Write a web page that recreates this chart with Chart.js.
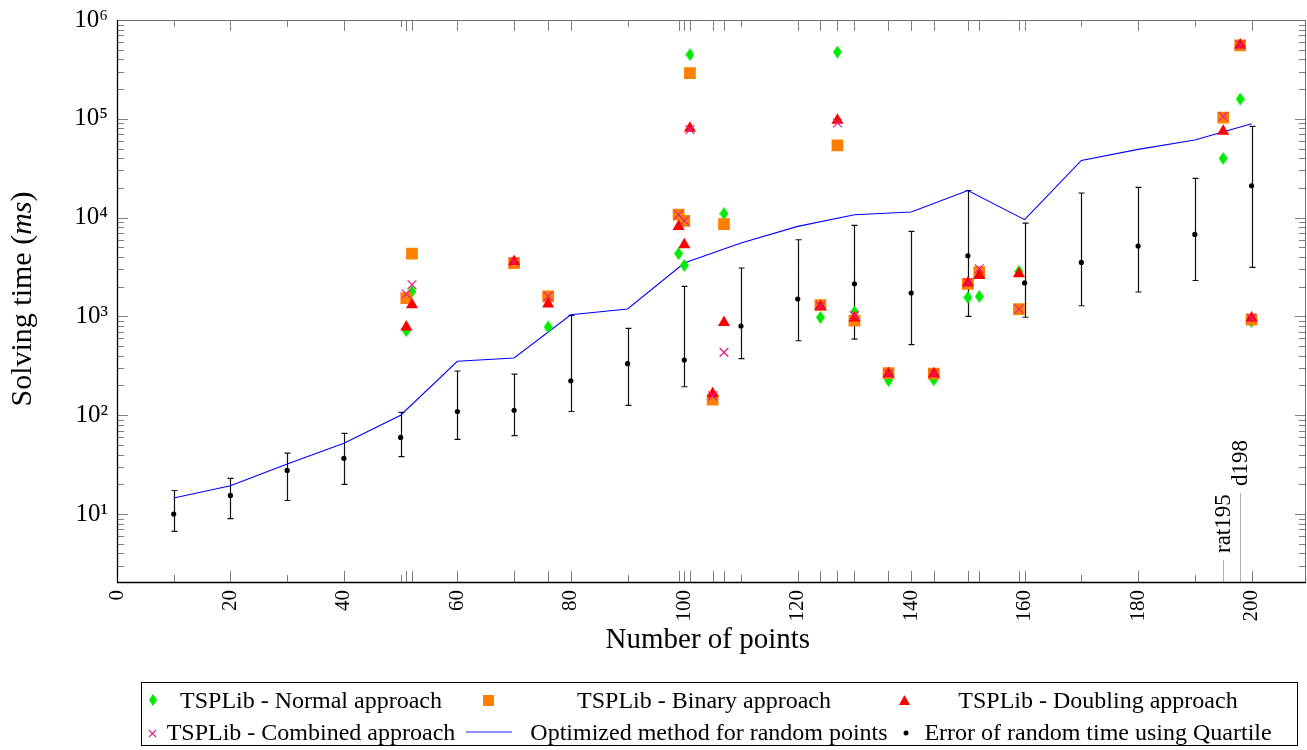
<!DOCTYPE html>
<html>
<head>
<meta charset="utf-8">
<script src="https://cdn.jsdelivr.net/npm/chart.js@4.4.0/dist/chart.umd.min.js"></script>
<style>
html,body{margin:0;padding:0;background:#fff;}
#wrap{position:relative;width:1307px;height:750px;overflow:hidden;}
#c{position:absolute;left:0;top:0;}
#legendBox{position:absolute;left:141px;top:682px;width:1157px;height:64px;border:1px solid #000;box-sizing:border-box;}
.lt{position:absolute;font-family:"Liberation Serif",serif;font-size:24px;line-height:24px;color:#000;white-space:nowrap;transform:translate(-50%,-50%);}
.lm{position:absolute;}
</style>
</head>
<body>
<div id="wrap">
<canvas id="c" width="1307" height="750"></canvas>
<div id="legendBox"></div>
<div id="legend"></div>
</div>
<script>
// ---------- DATA ----------
const randomN = [10,20,30,40,50,60,70,80,90,100,110,120,130,140,150,160,170,180,190,200];
const optimizedTime = [14.5,19.3,32,52,100,351,379,1040,1188,3470,5520,8150,10700,11380,18800,9530,37900,49000,61000,89000];
const quartileMedian = [10.0,15.4,27.6,36.6,59.6,109,112,223,332,362,800,1500,2140,1725,4110,2180,3520,5160,6760,21000];
const quartileLow = [6.67,8.96,13.7,19.9,38,56.9,62,109,126,194,373,567,590,518,1000,980,1282,1766,2310,3130];
const quartileHigh = [17.3,22.9,41.4,65.5,107,280,261,1023,757,2015,3090,5970,8340,7250,18800,8810,17740,20200,24900,83800];

const tspN =         [51,   52,   70,   76,   99,    100,  101,    105,  107,   124,  127,    130,  136, 144, 150,  152,  159,  195,    198,    200];
const normalTime =   [716,  1790, 3500, 782,  4320,  3280, 445600, 155,  10960, 977,  474000, 1108, 225, 228, 1556, 1593, 2856, 39700,  158500, 890];
const binaryTime =   [1535, 4320, 3470, 1592, 10700, 9290, 290600, 143.5,8610,  1303, 53800,  904,  267, 263, 2130, 2812, 1188, 103000, 553000, 927];
const doublingTime = [782,  1313, 3600, 1336, 8150,  5320, 80000,  165,  869,   1260, 96400,  964,  263, 263, 2180, 2600, 2704, 74700,  560000, 964];
const combinedTime = [1686, 2094, 3550, 1600, 10700, 9300, 77600,  157,  432,   1270, 90700,  1017, 263, 263, 2180, 3040, 1188, 105700, 560000, 964];

const xTickLabels = [0,20,40,60,80,100,120,140,160,180,200];
const minorXTicks = [10,30,50,90,110,170,190];
const extraTickN = [51,52,60,70,76,99,101,105,107,124,127,130,136,144,150,152,159];
const yTickValues = [10,100,1000,10000,100000,1000000];
const pinN = [195,198];
const pinLabels = ['rat195','d198'];

const seriesNames = ['TSPLib - Normal approach','TSPLib - Binary approach','TSPLib - Doubling approach',
  'TSPLib - Combined approach','Optimized method for random points','Error of random time using Quartile'];

// ---------- STYLE ----------
const GREEN = 'rgb(0,235,0)', ORANGE = 'rgb(255,128,0)', RED = 'rgb(255,0,0)', PINK = 'rgb(228,30,140)', BLUE = 'rgb(0,0,255)';
const SERIF = '"Liberation Serif", serif';
const AREA_RIGHT = 1306;     // pixel of the plot box's right edge
const X_FRAME_MAX = 209.6;   // x value at the plot box's right edge

function diamondImg(w, h, color) {
  const c = document.createElement('canvas'); c.width = w; c.height = h;
  const g = c.getContext('2d'); g.fillStyle = color; g.beginPath();
  g.moveTo(w/2, 0); g.lineTo(w, h/2); g.lineTo(w/2, h); g.lineTo(0, h/2); g.closePath(); g.fill();
  return c;
}
const pts = (xs, ys) => xs.map((x, i) => ({x, y: ys[i]}));

const sup = {1:'\u00B9',2:'\u00B2',3:'\u00B3',4:'\u2074',5:'\u2075',6:'\u2076'};

const frameRight = chart => chart.scales.x.getPixelForValue(X_FRAME_MAX);

const decorPlugin = {
  id: 'decor',
  beforeDatasetsDraw(chart) {
    const {ctx, chartArea: a, scales: {x, y}} = chart;
    const R = frameRight(chart);
    ctx.save();
    // tick marks (inward)
    ctx.strokeStyle = '#808080'; ctx.lineWidth = 1;
    ctx.beginPath();
    for (let k = 0; k <= 6; k++) for (let m = 1; m <= 9; m++) {
      const v = m * Math.pow(10, k);
      if (v < y.min || v > y.max) continue;
      const py = Math.round(y.getPixelForValue(v)) + 0.5;
      const len = m === 1 ? 11 : 7;
      ctx.moveTo(a.left, py); ctx.lineTo(a.left + len, py);
      ctx.moveTo(R, py); ctx.lineTo(R - len, py);
    }
    const addX = (v, len) => {
      const px = Math.round(x.getPixelForValue(v)) + 0.5;
      ctx.moveTo(px, a.bottom); ctx.lineTo(px, a.bottom - len);
      ctx.moveTo(px, a.top); ctx.lineTo(px, a.top + len);
    };
    xTickLabels.forEach(v => addX(v, 11));
    extraTickN.forEach(v => addX(v, 11));
    minorXTicks.forEach(v => addX(v, 7));
    ctx.stroke();
    // error bars
    ctx.strokeStyle = '#111'; ctx.lineWidth = 1.2;
    ctx.beginPath();
    randomN.forEach((n, i) => {
      const px = Math.round(x.getPixelForValue(n)) + 0.5;
      const lo = y.getPixelForValue(quartileLow[i]);
      const hi = y.getPixelForValue(quartileHigh[i]);
      ctx.moveTo(px, lo); ctx.lineTo(px, hi);
      ctx.moveTo(px - 3, lo); ctx.lineTo(px + 3, lo);
      ctx.moveTo(px - 3, hi); ctx.lineTo(px + 3, hi);
    });
    ctx.stroke();
    // pins
    const pinLen = [22, 89];
    ctx.strokeStyle = '#b0b0b0'; ctx.lineWidth = 1;
    ctx.fillStyle = '#000';
    ctx.font = '23px ' + SERIF;
    pinN.forEach((n, i) => {
      const px = Math.round(x.getPixelForValue(n)) + 0.5;
      ctx.beginPath(); ctx.moveTo(px, a.bottom); ctx.lineTo(px, a.bottom - pinLen[i]); ctx.stroke();
      ctx.save();
      ctx.translate(px, a.bottom - pinLen[i] - 7);
      ctx.rotate(-Math.PI / 2);
      ctx.textAlign = 'left'; ctx.textBaseline = 'middle';
      ctx.fillText(pinLabels[i], 0, 0);
      ctx.restore();
    });
    ctx.restore();
  },
  afterDraw(chart) {
    const {ctx, chartArea: a} = chart;
    const R = frameRight(chart);
    ctx.save();
    // frame
    ctx.lineWidth = 1;
    ctx.strokeStyle = '#6e6e6e';
    ctx.beginPath();
    ctx.moveTo(a.left, a.top + 0.5); ctx.lineTo(R, a.top + 0.5);
    ctx.moveTo(R - 0.5, a.top); ctx.lineTo(R - 0.5, a.bottom);
    ctx.stroke();
    ctx.strokeStyle = '#000'; ctx.lineWidth = 1.3;
    ctx.beginPath();
    ctx.moveTo(a.left + 0.5, a.top); ctx.lineTo(a.left + 0.5, a.bottom + 0.5);
    ctx.lineTo(R, a.bottom + 0.5);
    ctx.stroke();
    // y axis title with italic unit
    const parts = [['Solving time (', 'normal'], ['ms', 'italic'], [')', 'normal']];
    ctx.fillStyle = '#000'; ctx.textBaseline = 'middle'; ctx.textAlign = 'left';
    let total = 0;
    parts.forEach(p => { ctx.font = p[1] + ' 30px ' + SERIF; total += ctx.measureText(p[0]).width; });
    ctx.translate(23, 299); ctx.rotate(-Math.PI / 2);
    let cx = -total / 2;
    parts.forEach(p => { ctx.font = p[1] + ' 30px ' + SERIF; ctx.fillText(p[0], cx, 0); cx += ctx.measureText(p[0]).width; });
    ctx.restore();
  }
};

const chart = new Chart(document.getElementById('c'), {
  data: {
    datasets: [
      { type: 'scatter', label: seriesNames[5], data: pts(randomN, quartileMedian), order: 0,
        pointStyle: 'circle', pointRadius: 2.6, pointBackgroundColor: '#000', pointBorderWidth: 0 },
      { type: 'scatter', label: seriesNames[3], data: pts(tspN, combinedTime), order: 1,
        pointStyle: 'crossRot', pointRadius: 6.2, pointBorderColor: PINK, pointBorderWidth: 1.2 },
      { type: 'scatter', label: seriesNames[2], data: pts(tspN, doublingTime), order: 2,
        pointStyle: 'triangle', pointRadius: 7, pointBackgroundColor: RED, pointBorderWidth: 0 },
      { type: 'scatter', label: seriesNames[1], data: pts(tspN, binaryTime), order: 3,
        pointStyle: 'rect', pointRadius: 8.3, pointBackgroundColor: ORANGE, pointBorderWidth: 0 },
      { type: 'scatter', label: seriesNames[0], data: pts(tspN, normalTime), order: 4,
        pointStyle: diamondImg(9, 13, GREEN), pointRadius: 6 },
      { type: 'line', label: seriesNames[4], data: pts(randomN, optimizedTime), order: 5,
        borderColor: BLUE, borderWidth: 1.1, pointRadius: 0, fill: false, tension: 0 }
    ]
  },
  options: {
    responsive: false, animation: false, events: [],
    layout: { padding: { top: 20, right: 1, left: 0, bottom: 0 } },
    plugins: { legend: { display: false }, tooltip: { enabled: false } },
    scales: {
      x: {
        type: 'linear', position: 'bottom', min: 0, max: X_FRAME_MAX,
        grid: { display: false, drawTicks: false }, border: { display: false },
        afterBuildTicks: s => { s.ticks = xTickLabels.map(v => ({value: v})); },
        afterFit: s => { s.height = 168; s.paddingLeft = 0; s.paddingRight = 0; },
        ticks: { autoSkip: false, minRotation: 90, maxRotation: 90, padding: 8, color: '#000',
          font: { family: SERIF, size: 21 } },
        title: { display: true, text: 'Number of points', color: '#000',
          font: { family: SERIF, size: 29 }, padding: { top: 0, bottom: 92 } }
      },
      y: {
        type: 'logarithmic', position: 'left', min: 2.05, max: 1000000,
        grid: { display: false, drawTicks: false }, border: { display: false },
        afterBuildTicks: s => { s.ticks = yTickValues.map(v => ({value: v})); },
        afterFit: s => { s.width = 117; s.paddingTop = 0; s.paddingBottom = 0; },
        ticks: { padding: 9, color: '#000', font: { family: SERIF, size: 25 },
          callback: v => '10' + sup[Math.round(Math.log10(v))] }
      }
    }
  },
  plugins: [decorPlugin]
});
// Chart.js reserves a little room on the right; rescale x so the plot box still ends at AREA_RIGHT
for (let i = 0; i < 4; i++) {
  const a = chart.chartArea;
  const m = X_FRAME_MAX * (a.right - a.left) / (AREA_RIGHT - a.left);
  if (Math.abs(m - chart.options.scales.x.max) < 0.005) break;
  chart.options.scales.x.max = m;
  chart.update();
}

// ---------- HTML legend ----------
(function () {
  const L = document.getElementById('legend');
  const add = html => L.insertAdjacentHTML('beforeend', html);
  const r1 = 700, r2 = 732;
  const text = (t, cx, cy) => add(`<div class="lt" style="left:${cx}px;top:${cy}px">${t}</div>`);
  const svg = (cx, cy, w, h, inner) =>
    add(`<svg class="lm" style="left:${cx - w/2}px;top:${cy - h/2}px" width="${w}" height="${h}" viewBox="0 0 ${w} ${h}">${inner}</svg>`);
  // row 1
  svg(153, r1, 8, 12, `<polygon points="4,0 8,6 4,12 0,6" fill="${GREEN}"/>`);
  text(seriesNames[0], 311, r1);
  svg(488, r1, 11, 11, `<rect x="0" y="0" width="11" height="11" fill="${ORANGE}"/>`);
  text(seriesNames[1], 704, r1);
  svg(904, r1, 11, 10, `<polygon points="5.5,0 11,10 0,10" fill="${RED}"/>`);
  text(seriesNames[2], 1098, r1);
  // row 2
  svg(152, r2 + 1, 9, 9, `<path d="M1,1 L8,8 M8,1 L1,8" stroke="${PINK}" stroke-width="1.2"/>`);
  text(seriesNames[3], 311, r2);
  svg(489, r2, 46, 4, `<line x1="0" y1="2" x2="46" y2="2" stroke="${BLUE}" stroke-opacity="0.6" stroke-width="1.3"/>`);
  text(seriesNames[4], 709, r2);
  svg(906, r2 + 1, 6, 6, `<circle cx="3" cy="3" r="2.5" fill="#000"/>`);
  text(seriesNames[5], 1098, r2);
})();
</script>
</body>
</html>
